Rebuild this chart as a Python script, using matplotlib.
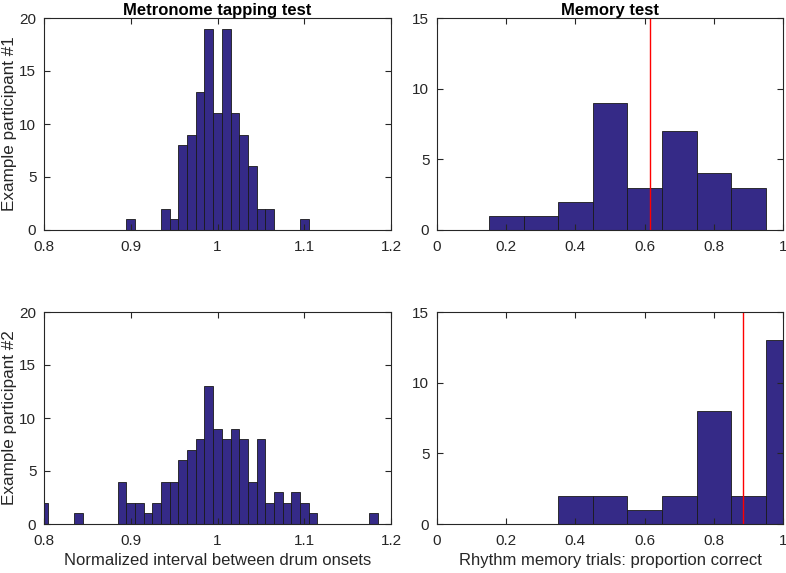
import matplotlib
matplotlib.use("Agg")
import matplotlib.pyplot as plt

plt.rcParams['font.family'] = ['Liberation Sans', 'DejaVu Sans']

# Metronome tapping test histograms (bin width 0.01)
tap1_centers = [0.90, 0.94, 0.95, 0.96, 0.97, 0.98, 0.99, 1.00, 1.01, 1.02, 1.03, 1.04, 1.05, 1.06, 1.10]
tap1_counts = [1, 2, 1, 8, 9, 13, 19, 11, 19, 11, 9, 6, 2, 2, 1]

tap2_centers = [0.80, 0.84, 0.89, 0.90, 0.91, 0.92, 0.93, 0.94, 0.95, 0.96, 0.97, 0.98, 0.99,
                1.00, 1.01, 1.02, 1.03, 1.04, 1.05, 1.06, 1.07, 1.08, 1.09, 1.10, 1.11, 1.18]
tap2_counts = [2, 1, 4, 2, 2, 1, 2, 4, 4, 6, 7, 8, 13,
               9, 8, 9, 8, 4, 8, 2, 3, 2, 3, 2, 1, 1]
tap_bin = 0.01

# Memory test histograms (bin width 0.1)
mem1_centers = [0.2, 0.3, 0.4, 0.5, 0.6, 0.7, 0.8, 0.9]
mem1_counts = [1, 1, 2, 9, 3, 7, 4, 3]
mem1_mean = 0.615

mem2_centers = [0.4, 0.5, 0.6, 0.7, 0.8, 0.9, 1.0]
mem2_counts = [2, 2, 1, 2, 8, 2, 13]
mem2_mean = 0.883
mem_bin = 0.1

tap_ticks = [0.8, 0.9, 1.0, 1.1, 1.2]
tap_ticklabels = ['0.8', '0.9', '1', '1.1', '1.2']
mem_ticks = [0, 0.2, 0.4, 0.6, 0.8, 1.0]
mem_ticklabels = ['0', '0.2', '0.4', '0.6', '0.8', '1']

bar_color = '#352A87'
spine_color = '#262626'

fig = plt.figure(figsize=(7.86, 5.73), dpi=100)
W, H = 786, 573

def make_ax(x0, x1, y0, y1):
    return fig.add_axes([x0 / W, 1 - y1 / H, (x1 - x0) / W, (y1 - y0) / H])

ax_tl = make_ax(44, 391, 18, 230)
ax_tr = make_ax(437, 783, 18, 230)
ax_bl = make_ax(44, 391, 312, 524)
ax_br = make_ax(437, 783, 312, 524)

def style(ax):
    for s in ax.spines.values():
        s.set_color(spine_color)
        s.set_linewidth(0.8)
    ax.tick_params(direction='in', top=True, right=True, length=4, width=0.8,
                   colors=spine_color, labelsize=11, labelcolor='#262626')
    ax.tick_params(axis='x', pad=7)
    ax.tick_params(axis='y', pad=5.5)

for ax, c, n in [(ax_tl, tap1_centers, tap1_counts), (ax_bl, tap2_centers, tap2_counts)]:
    ax.bar(c, n, width=tap_bin, align='center', color=bar_color, edgecolor='#1a1a1a', linewidth=0.6)
    ax.set_xlim(0.8, 1.2)
    ax.set_ylim(0, 20)
    ax.set_xticks(tap_ticks)
    ax.set_xticklabels(tap_ticklabels)
    ax.set_yticks([0, 5, 10, 15, 20])
    style(ax)

for ax, c, n, m in [(ax_tr, mem1_centers, mem1_counts, mem1_mean), (ax_br, mem2_centers, mem2_counts, mem2_mean)]:
    ax.bar(c, n, width=mem_bin, align='center', color=bar_color, edgecolor='#1a1a1a', linewidth=0.6)
    ax.axvline(m, color='red', linewidth=1.0)
    ax.set_xlim(0, 1)
    ax.set_ylim(0, 15)
    ax.set_xticks(mem_ticks)
    ax.set_xticklabels(mem_ticklabels)
    ax.set_yticks([0, 5, 10, 15])
    style(ax)

ax_tl.set_title('Metronome tapping test', fontsize=12, fontweight='bold', pad=2)
ax_tr.set_title('Memory test', fontsize=12, fontweight='bold', pad=2)
ax_tl.set_ylabel('Example participant #1', fontsize=12.3, color='#262626', labelpad=2)
ax_bl.set_ylabel('Example participant #2', fontsize=12.3, color='#262626', labelpad=2)
ax_bl.set_xlabel('Normalized interval between drum onsets', fontsize=12, color='#262626', labelpad=4)
ax_br.set_xlabel('Rhythm memory trials: proportion correct', fontsize=12, color='#262626', labelpad=4)

fig.savefig('out.png', dpi=100)
